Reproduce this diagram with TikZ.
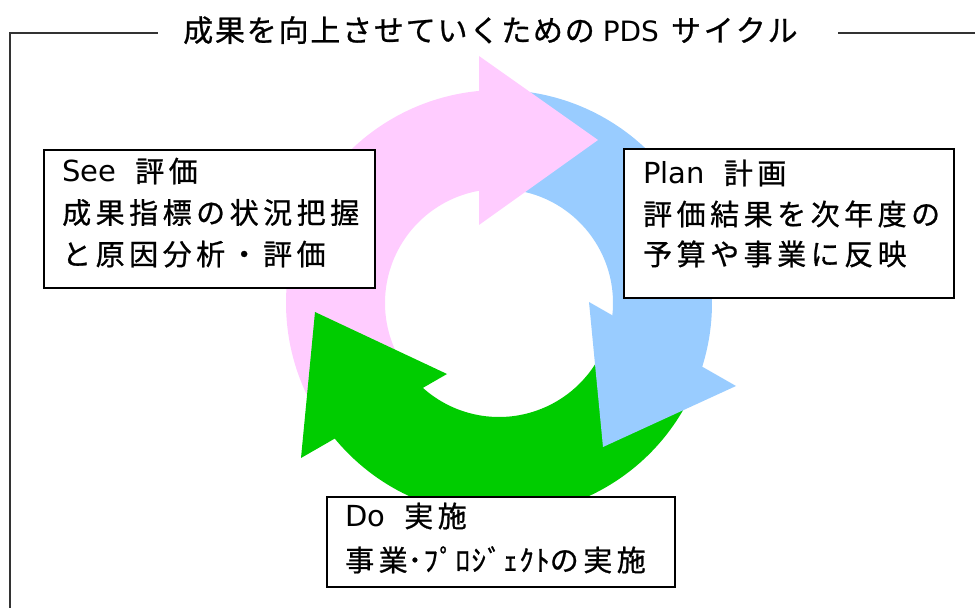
\documentclass[tikz,border=0pt]{standalone}
\usepackage{fontspec}
\setmainfont{Noto Sans CJK JP}
\newfontfamily\boxfont[LetterSpace=15.5,FakeBold=0.8]{Noto Sans CJK JP}
\newfontfamily\halffont[LetterSpace=5,FakeBold=0.8]{Noto Sans CJK JP}
\newfontfamily\titlecjk[LetterSpace=6,FakeBold=0.8]{Noto Sans CJK JP}
\newfontfamily\titlekana[LetterSpace=9,FakeBold=0.8]{Noto Sans CJK JP}
\newfontfamily\latinfont{DejaVu Sans}
\usetikzlibrary{calc}
\definecolor{pinkarc}{HTML}{FFCCFF}
\definecolor{bluearc}{HTML}{99CCFF}
\definecolor{greenarc}{HTML}{00CC00}
\begin{document}
\begin{tikzpicture}[x=1pt,y=1pt,
  boxst/.style={draw=black,line width=1.6pt,fill=white,inner sep=0pt,anchor=north west},
  linetxt/.style={anchor=base west,inner sep=0pt,font=\fontsize{29}{32}\boxfont},
  frameline/.style={draw=black!80,line width=1.4pt}]
\useasboundingbox (0,0) rectangle (975,608);
\coordinate (C) at (499,305);
% arrow bodies
\fill[bluearc] ($(C)+(83:213)$) arc[start angle=83,end angle=-19.5,radius=213]
  -- ($(C)+(-7:114)$) arc[start angle=-7,end angle=83,radius=114] -- cycle;
\fill[greenarc] ($(C)+(-27:213)$) arc[start angle=-27,end angle=-142.5,radius=213]
  -- ($(C)+(-134:114)$) arc[start angle=-134,end angle=-27,radius=114] -- cycle;
\fill[pinkarc] ($(C)+(207:213)$) arc[start angle=207,end angle=93,radius=213]
  -- ($(C)+(98:114)$) arc[start angle=98,end angle=207,radius=114] -- cycle;
% arrow heads
\fill[pinkarc] (479,552) -- (598,468) -- (479,383) -- cycle;
\fill[bluearc] (589,306) -- (736,222) -- (603,161) -- cycle;
\fill[greenarc] (447,234) -- (301,150) -- (315,296) -- cycle;
% frame and title
\draw[frameline] (10,0) -- (10,575) -- (158,575);
\draw[frameline] (838,575) -- (975,575);
\node[anchor=base west,inner sep=0pt,font=\fontsize{30}{32}\titlecjk] (title) at (183,566.5)
  {成果を向上させていくための\hspace{8pt}{\fontsize{28}{32}\latinfont PDS}\hspace{12pt}{\titlekana サイクル}};
% boxes
\node[boxst,minimum width=331pt,minimum height=138pt] (see) at (43,459) {};
\node[linetxt] (see1) at (62,426) {{\latinfont See}\hspace{19pt}評価};
\node[linetxt] (see2) at (62,384.5) {成果指標の状況把握};
\node[linetxt] (see3) at (62,343) {と原因分析・評価};
\node[boxst,minimum width=330pt,minimum height=149pt] (plan) at (623,460) {};
\node[linetxt] (plan1) at (643,424) {{\latinfont Plan}\hspace{19pt}計画};
\node[linetxt] (plan2) at (643,383) {評価結果を次年度の};
\node[linetxt] (plan3) at (643,343) {予算や事業に反映};
\node[boxst,minimum width=348pt,minimum height=90pt] (do) at (326,112) {};
\node[linetxt] (do1) at (345,81) {{\latinfont Do}\hspace{19pt}実施};
\node[linetxt] (do2) at (345,37) {事業{\halffont ･ﾌﾟﾛｼﾞｪｸﾄ}の実施};
\end{tikzpicture}
\end{document}
